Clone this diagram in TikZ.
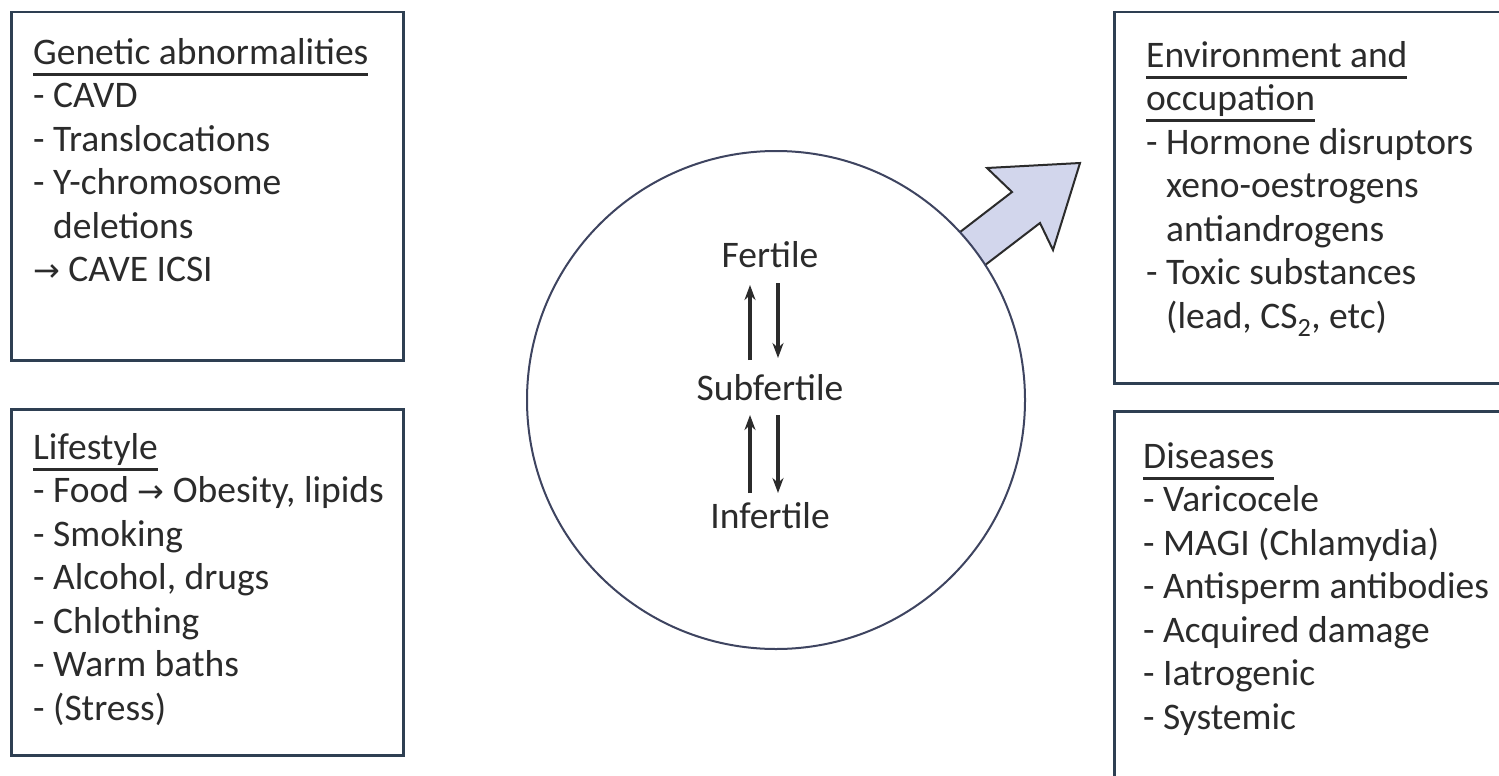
\documentclass[tikz,border=0pt]{standalone}
\usepackage{fontspec}
\setmainfont{Carlito}
\newfontfamily\symf{DejaVu Sans}
\usetikzlibrary{arrows.meta}
\definecolor{boxline}{HTML}{2E3F52}
\definecolor{ink}{HTML}{2B2B2B}
\definecolor{circline}{HTML}{3E4460}
\definecolor{arrowfill}{HTML}{D2D6EC}
\newcommand\myul[1]{\setbox0\hbox{#1}\rlap{\rule[-11.5pt]{\wd0}{3pt}}\box0}
\newcommand\tarr{{\symf\fontsize{32}{43.5}\selectfont →}}
\begin{document}
\begin{tikzpicture}[x=1pt,y=-1pt,
  box/.style={draw=boxline, line width=2.5pt, rectangle, inner sep=0pt, anchor=north west},
  txt/.style={text=ink, font=\fontsize{37.5}{43.5}\selectfont, align=left, anchor=base west, inner sep=0pt},
  ctr/.style={text=ink, font=\fontsize{37.5}{43.5}\selectfont, anchor=base, inner sep=0pt},
  arr/.style={draw=ink, line width=3.4pt, -{Stealth[length=15pt,width=11pt]}}]
\useasboundingbox[fill=white] (0,0) rectangle (1499,776);
% boxes
\node[box, minimum width=392pt, minimum height=348pt] (gbox) at (10,11) {};
\node[box, minimum width=392pt, minimum height=346pt] (lbox) at (10,408) {};
\node[box, minimum width=400pt, minimum height=371pt] (ebox) at (1113,11) {};
\node[box, minimum width=400pt, minimum height=380pt] (dbox) at (1113,410) {};
% texts (anchored at the baseline of their last line)
\node[txt] (gtxt) at (33,281.5) {\myul{Genetic abnormalities}\\
- CAVD\\
- Translocations\\
- Y-chromosome\\
\hphantom{- }deletions\\
\tarr\ CAVE ICSI};
\node[txt] (ltxt) at (33,720) {\myul{Lifestyle}\\
- Food \tarr\ Obesity, lipids\\
- Smoking\\
- Alcohol, drugs\\
- Chlothing\\
- Warm baths\\
- (Stress)};
\node[txt] (etxt) at (1146,328) {\myul{Environment and}\\
\myul{occupation}\\
- Hormone disruptors\\
\hphantom{- }xeno-oestrogens\\
\hphantom{- }antiandrogens\\
- Toxic substances\\
\hphantom{- }(lead, CS\textsubscript{2}, etc)};
\node[txt] (dtxt) at (1143,729) {\myul{Diseases}\\
- Varicocele\\
- MAGI (Chlamydia)\\
- Antisperm antibodies\\
- Acquired damage\\
- Iatrogenic\\
- Systemic};
% male arrow
\draw[draw=ink, line width=2pt, fill=arrowfill, line join=miter]
  (938,249) -- (1012,192) -- (987,168) -- (1080,163) -- (1053,250) -- (1040,223) -- (963,282) -- cycle;
% circle
\node[circle, draw=circline, line width=2pt, fill=white, minimum size=498pt, inner sep=0pt] (c) at (776,400) {};
% centre texts
\node[ctr] (fert) at (770,267) {Fertile};
\node[ctr] (sub) at (770,400) {Subfertile};
\node[ctr] (inf) at (770,528) {Infertile};
\draw[arr] ([xshift=-20pt,yshift=40pt]sub.base) -- ([xshift=-20pt,yshift=-18pt]fert.base);
\draw[arr] ([xshift=8pt,yshift=-16pt]fert.base) -- ([xshift=8pt,yshift=42pt]sub.base);
\draw[arr] ([xshift=-20pt,yshift=35pt]inf.base) -- ([xshift=-20pt,yshift=-15pt]sub.base);
\draw[arr] ([xshift=8pt,yshift=-15pt]sub.base) -- ([xshift=8pt,yshift=35pt]inf.base);
\end{tikzpicture}
\end{document}
